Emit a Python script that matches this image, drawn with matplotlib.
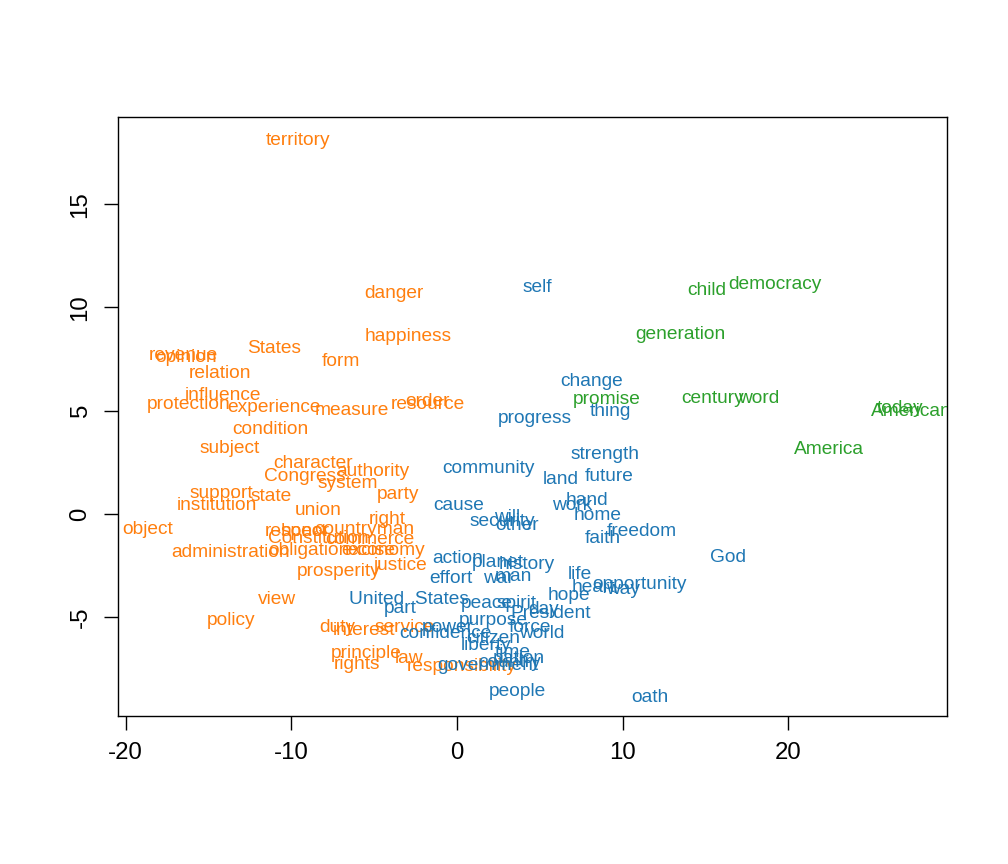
import matplotlib
matplotlib.use("Agg")
import matplotlib.pyplot as plt

plt.rcParams['font.family'] = ['Liberation Sans', 'DejaVu Sans']
plt.rcParams['axes.unicode_minus'] = False

# words per cluster, with their 2-d coordinates
orange_words = ["territory", "danger", "happiness", "revenue", "opinion", "States",
                "form", "relation", "influence", "protection", "experience", "measure",
                "order", "resource", "condition", "subject", "character", "authority",
                "Congress", "system", "support", "state", "party", "institution",
                "union", "right", "object", "respect", "honor", "countryman",
                "Constitution", "commerce", "obligation", "excise", "economy",
                "administration", "prosperity", "justice", "view", "policy", "duty",
                "interest", "service", "principle", "rights", "law", "responsibility"]
orange_x = [-9.60, -3.80, -2.96, -16.54, -16.35, -11.04, -7.00, -14.30, -14.12, -16.17,
            -11.04, -6.34, -1.81, -1.75, -11.29, -13.70, -8.69, -5.07, -9.17, -6.58,
            -14.24, -11.23, -3.56, -14.48, -8.39, -4.22, -18.65, -9.72, -9.17, -5.61,
            -8.39, -5.25, -8.93, -5.37, -4.28, -13.64, -7.12, -3.44, -10.86, -13.64,
            -7.24, -5.61, -3.14, -5.49, -6.04, -2.90, 0.30]
orange_y = [18.16, 10.75, 8.67, 7.75, 7.65, 8.09, 7.46, 6.88, 5.81, 5.42,
            5.23, 5.13, 5.52, 5.38, 4.21, 3.29, 2.52, 2.13, 1.89, 1.55,
            1.07, 0.92, 1.02, 0.53, 0.29, -0.15, -0.63, -0.77, -0.73, -0.63,
            -1.11, -1.16, -1.65, -1.65, -1.65, -1.79, -2.71, -2.42, -4.02, -5.08,
            -5.38, -5.52, -5.38, -6.68, -7.17, -6.92, -7.31]

blue_words = ["self", "change", "thing", "progress", "strength", "community", "land",
              "future", "cause", "hand", "work", "home", "will", "security", "other",
              "freedom", "faith", "God", "action", "planet", "history", "war", "man",
              "effort", "life", "opportunity", "heart", "way", "hope", "United  States",
              "part", "peace", "spirit", "day", "President", "purpose", "power", "force",
              "world", "confidence", "citizen", "liberty", "time", "nation", "country",
              "government", "people", "oath"]
blue_x = [4.83, 8.15, 9.23, 4.71, 8.93, 1.87, 6.28, 9.17, 0.12, 7.85,
          6.94, 8.51, 3.02, 2.72, 3.62, 11.16, 8.81, 16.35, 0.06, 2.47,
          4.22, 2.47, 3.38, -0.36, 7.42, 11.04, 8.21, 10.02, 6.76, -2.90,
          -3.44, 1.81, 3.62, 5.25, 5.67, 2.17, -0.54, 4.41, 5.13, -0.72,
          2.17, 1.75, 3.38, 3.74, 3.20, 1.87, 3.62, 11.65]
blue_y = [11.04, 6.49, 5.04, 4.70, 3.00, 2.32, 1.79, 1.89, 0.53, 0.73,
          0.53, 0.00, -0.05, -0.29, -0.44, -0.77, -1.11, -2.03, -2.08, -2.23,
          -2.37, -3.05, -2.95, -3.05, -2.81, -3.34, -3.44, -3.58, -3.87, -4.02,
          -4.46, -4.26, -4.26, -4.55, -4.70, -5.04, -5.38, -5.38, -5.67, -5.71,
          -5.91, -6.25, -6.59, -6.92, -7.07, -7.22, -8.52, -8.77]

green_words = ["child", "democracy", "generation", "promise", "century", "word",
               "today", "American", "America"]
green_x = [15.09, 19.19, 13.46, 9.05, 15.45, 18.23, 26.74, 27.40, 22.45]
green_y = [10.94, 11.19, 8.81, 5.62, 5.67, 5.67, 5.18, 5.04, 3.20]

groups = [(orange_words, orange_x, orange_y, "#ff7f0e"),
          (blue_words, blue_x, blue_y, "#1f77b4"),
          (green_words, green_x, green_y, "#2ca02c")]

fig = plt.figure(figsize=(10.08, 8.64), dpi=100)
ax = fig.add_axes([118 / 1008, 1 - 716 / 864, (947 - 118) / 1008, (716 - 117) / 864])

for words, xs, ys, col in groups:
    for w, x, y in zip(words, xs, ys):
        ax.text(x, y, w, color=col, fontsize=13.8, ha="center",
                va="center_baseline", clip_on=True)

ax.set_xlim(-20.46, 29.57)
ax.set_ylim(-9.78, 19.22)
ax.set_xticks([-20, -10, 0, 10, 20])
ax.set_yticks([-5, 0, 5, 10, 15])
ax.tick_params(axis="both", length=10, width=1, labelsize=17.3, pad=9)
plt.setp(ax.get_yticklabels(), rotation=90, va="center")
for s in ax.spines.values():
    s.set_linewidth(1)

fig.savefig("out.png", dpi=100)
